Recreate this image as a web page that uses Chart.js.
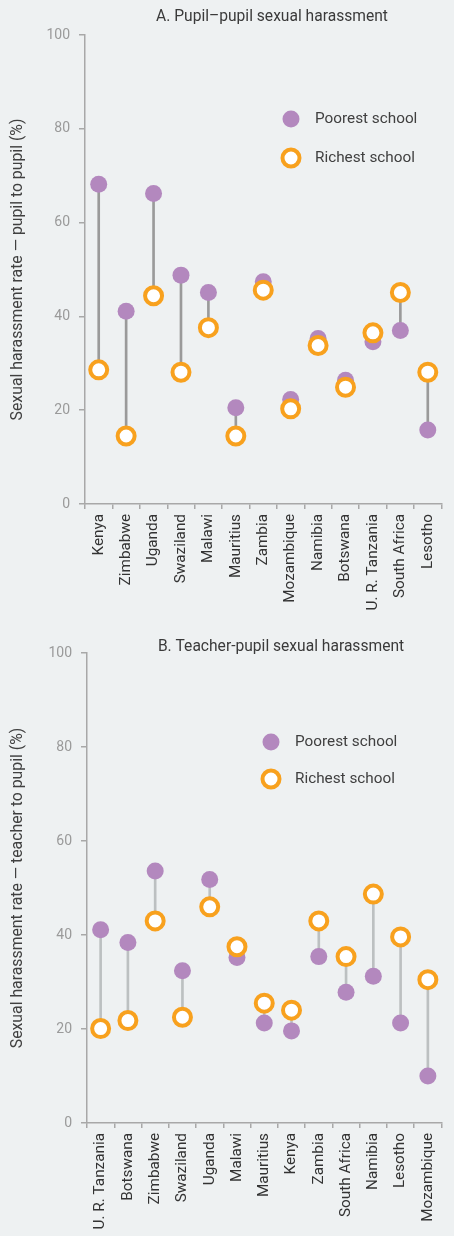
<!DOCTYPE html>
<html>
<head>
<meta charset="utf-8">
<script src="https://cdn.jsdelivr.net/npm/chart.js@4"></script>
<style>
  html, body { margin: 0; padding: 0; background: #eef1f2; }
  body { width: 454px; height: 1236px; overflow: hidden; }
  canvas { display: block; }
</style>
</head>
<body>
<canvas id="chartA" width="454" height="612"></canvas>
<canvas id="chartB" width="454" height="624"></canvas>
<script>
// ---- Data ----
const titleA = "A. Pupil\u2013pupil sexual harassment";
const axisTitleA = "Sexual harassment rate \u2014 pupil to pupil (%)";
const countriesA = ["Kenya", "Zimbabwe", "Uganda", "Swaziland", "Malawi", "Mauritius", "Zambia", "Mozambique", "Namibia", "Botswana", "U. R. Tanzania", "South Africa", "Lesotho"];
const poorestA = [68.2, 41.1, 66.2, 48.8, 45.1, 20.5, 47.4, 22.3, 35.3, 26.4, 34.6, 37.0, 15.8];
const richestA = [28.6, 14.5, 44.4, 28.1, 37.6, 14.5, 45.6, 20.3, 33.8, 24.9, 36.5, 45.1, 28.1];

const titleB = "B. Teacher-pupil sexual harassment";
const axisTitleB = "Sexual harassment rate \u2014 teacher to pupil (%)";
const countriesB = ["U. R. Tanzania", "Botswana", "Zimbabwe", "Swaziland", "Uganda", "Malawi", "Mauritius", "Kenya", "Zambia", "South Africa", "Namibia", "Lesotho", "Mozambique"];
const poorestB = [41.1, 38.4, 53.6, 32.4, 51.8, 35.2, 21.3, 19.6, 35.4, 27.8, 31.2, 21.3, 10.0];
const richestB = [20.1, 21.8, 43.0, 22.5, 46.0, 37.5, 25.5, 24.0, 43.0, 35.4, 48.7, 39.6, 30.5];

const seriesNames = ["Poorest school", "Richest school"];
const yTicks = [0, 20, 40, 60, 80, 100];

// ---- Styles ----
const FONT = "Roboto, 'Liberation Sans', sans-serif";
const PURPLE = "#b388be";
const ORANGE = "#f8a11e";
const TICK_GREY = "#9a9a9a";
const TEXT = "#404040";

const titlePlugin = {
  id: 'panelTitle',
  afterDraw(chart, args, opts) {
    const ctx = chart.ctx;
    ctx.save();
    ctx.font = "15.6px " + FONT;
    ctx.fillStyle = "#3a3a3a";
    ctx.textAlign = "center";
    ctx.textBaseline = "middle";
    ctx.fillText(opts.text, opts.x, opts.y);
    ctx.restore();
  }
};

const legendPlugin = {
  id: 'innerLegend',
  afterDraw(chart, args, opts) {
    const ctx = chart.ctx;
    const area = chart.chartArea;
    const items = [chart.data.datasets[1], chart.data.datasets[2]];
    ctx.save();
    items.forEach((ds, i) => {
      const x = area.left + opts.dx;
      const y = area.top + opts.dy + i * opts.gap;
      ctx.beginPath();
      ctx.arc(x, y, ds.pointRadius, 0, Math.PI * 2);
      ctx.fillStyle = ds.pointBackgroundColor;
      ctx.fill();
      if (ds.pointBorderWidth > 0) {
        ctx.lineWidth = ds.pointBorderWidth;
        ctx.strokeStyle = ds.pointBorderColor;
        ctx.stroke();
      }
      ctx.font = "15.3px " + FONT;
      ctx.fillStyle = TEXT;
      ctx.textAlign = "left";
      ctx.textBaseline = "middle";
      ctx.fillText(ds.label, x + 24, y);
    });
    ctx.restore();
  }
};

function makeChart(id, countries, poorest, richest, cfg) {
  return new Chart(document.getElementById(id), {
    type: 'bar',
    data: {
      labels: countries,
      datasets: [
        {
          type: 'bar',
          label: 'range',
          data: poorest.map((p, i) => [p, richest[i]]),
          backgroundColor: cfg.lineColor,
          borderWidth: 0,
          barThickness: 2,
          order: 3
        },
        {
          type: 'line',
          label: seriesNames[0],
          data: poorest,
          showLine: false,
          pointRadius: 8.5,
          pointHoverRadius: 8.5,
          pointBackgroundColor: PURPLE,
          pointBorderColor: PURPLE,
          pointBorderWidth: 0,
          clip: false,
          order: 2
        },
        {
          type: 'line',
          label: seriesNames[1],
          data: richest,
          showLine: false,
          pointRadius: 8.5,
          pointHoverRadius: 8.5,
          pointBackgroundColor: "#ffffff",
          pointBorderColor: ORANGE,
          pointBorderWidth: 4,
          clip: false,
          order: 1
        }
      ]
    },
    options: {
      responsive: false,
      animation: false,
      devicePixelRatio: 1,
      layout: { padding: { top: cfg.top, right: cfg.right, left: 0, bottom: 0 } },
      plugins: {
        legend: { display: false },
        tooltip: { enabled: false },
        panelTitle: { text: cfg.title, x: cfg.titleX, y: cfg.titleY },
        innerLegend: { dx: cfg.legDx, dy: cfg.legDy, gap: cfg.legGap }
      },
      scales: {
        x: {
          type: 'category',
          offset: true,
          afterFit: (s) => { s.height = cfg.xHeight; },
          grid: { display: true, drawOnChartArea: false, drawTicks: true, tickLength: 5, offset: true, color: "#a8a8a8", lineWidth: 1.5 },
          border: { display: true, color: "#a8a8a8", width: 1.5 },
          ticks: {
            autoSkip: false,
            minRotation: 90,
            maxRotation: 90,
            padding: 5,
            color: "#333333",
            font: { family: FONT, size: 15.3 }
          }
        },
        y: {
          min: 0,
          max: 100,
          afterFit: (s) => { s.width = cfg.yWidth; },
          afterBuildTicks: (s) => { s.ticks = yTicks.map(v => ({ value: v })); },
          grid: { display: true, drawOnChartArea: false, drawTicks: true, tickLength: 6, color: "#a8a8a8", lineWidth: 1.5 },
          border: { display: true, color: "#a8a8a8", width: 1.5 },
          ticks: {
            padding: 9,
            color: TICK_GREY,
            font: { family: FONT, size: 14 }
          },
          title: {
            display: true,
            text: cfg.axisTitle,
            color: TEXT,
            padding: { top: 9, bottom: 0 },
            font: { family: FONT, size: 15.8 }
          }
        }
      }
    },
    plugins: [titlePlugin, legendPlugin]
  });
}

makeChart('chartA', countriesA, poorestA, richestA, {
  title: titleA, titleX: 272, titleY: 17,
  axisTitle: axisTitleA,
  top: 35, right: 2, xHeight: 108, yWidth: 85,
  lineColor: "#9a9a9a",
  legDx: 206, legDy: 84, legGap: 39
});

makeChart('chartB', countriesB, poorestB, richestB, {
  title: titleB, titleX: 281, titleY: 35,
  axisTitle: axisTitleB,
  top: 41, right: 0, xHeight: 113, yWidth: 87,
  lineColor: "#bcc0c1",
  legDx: 184, legDy: 89, legGap: 37
});
</script>
</body>
</html>
